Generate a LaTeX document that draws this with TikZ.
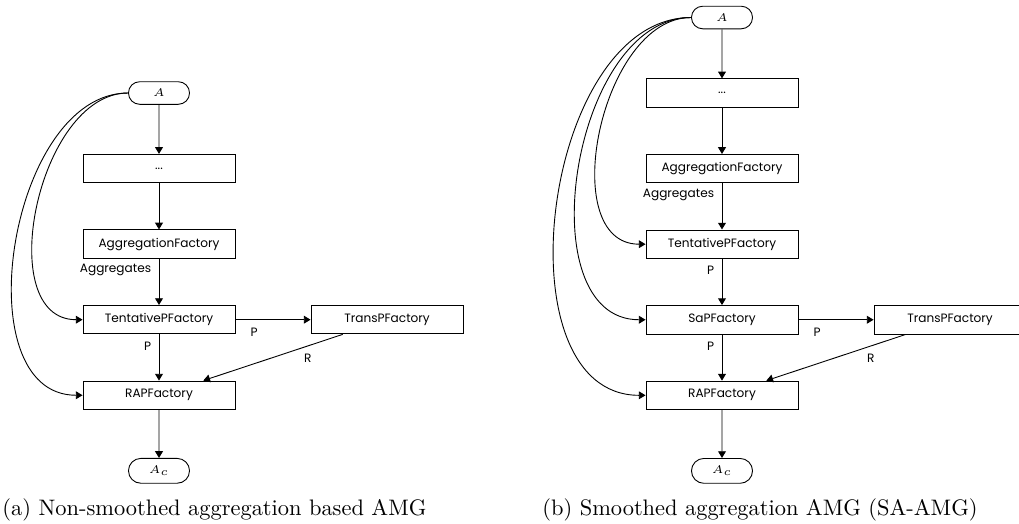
\documentclass[tikz,border=0pt]{standalone}
\usepackage{fontspec}
\usepackage{tikz}
\usetikzlibrary{shapes,shapes.misc,arrows.meta,positioning}
\newfontfamily\factoryfont{Poppins}
\tikzset{
	>={Triangle[width=3.5pt,length=3pt]},
	% boxes for the factories
	factory/.style = {rectangle,
	minimum width=67.8pt, minimum height=12.7pt,
	draw=black, text centered},
	% rounded boxes for the matrices
	term/.style = {rounded rectangle,
	minimum width=33.9pt, minimum height=8.5pt,
	draw=black, text centered},
	caption/.style = {anchor=base west, inner sep=0pt, font=\rmfamily\normalsize},
}

\begin{document}
\begin{tikzpicture}[x=0.446pt, y=-0.446pt, node distance=33.7pt, every node/.style={font=\factoryfont\fontsize{5.4}{6.5}\selectfont}]
	\useasboundingbox (0,0) rectangle (1019,523);
		% (a) non-smoothed aggregation
		\node (aA)[term] at (159,93) {$A$};
		\node (adots)[factory, below of=aA]{...};
		\node (aagg)[factory, below of=adots]{AggregationFactory};
		\node (atent)[factory, below of=aagg]{TentativePFactory};
		\node (atrans)[factory, right=33.5pt of atent]{TransPFactory};
		\node (arap)[factory, below of=atent]{RAPFactory};
		\node (aAc)[term, below of=arap]{$A_c$};
		\node (acap)[caption] at (2,515) {(a) Non-smoothed aggregation based AMG};
		% (b) smoothed aggregation
		\node (bA)[term] at (722,17.5) {$A$};
		\node (bdots)[factory, below of=bA]{...};
		\node (bagg)[factory, below of=bdots]{AggregationFactory};
		\node (btent)[factory, below of=bagg]{TentativePFactory};
		\node (bsap)[factory, below of=btent]{SaPFactory};
		\node (btrans)[factory, right=33.5pt of bsap]{TransPFactory};
		\node (brap)[factory, below of=bsap]{RAPFactory};
		\node (bAc)[term, below of=brap]{$A_c$};
		\node (bcap)[caption] at (542,515) {(b) Smoothed aggregation AMG (SA-AMG)};
		% draw arrows (a)
		\draw[->](aA) -- (adots);
		\draw[->](adots) -- (aagg);
		\draw[->](aagg) -- node[near start, left]{Aggregates} (atent);
		\draw[->](atent) -- node[near start, below]{P} (atrans);
		\draw[->](atent) -- node[near start, left]{P} (arap);
		\draw[->](atrans) -- node[near start, below]{R} (arap);
		\draw[->](arap) -- (aAc);
		\draw[->](aA.west) to[out=180, in=180] (atent.west);
		\draw[->](aA.west) to[out=180, in=180] (arap.west);
		% draw arrows (b)
		\draw[->](bA) -- (bdots);
		\draw[->](bdots) -- (bagg);
		\draw[->](bagg) -- node[near start, left]{Aggregates} (btent);
		\draw[->](btent) -- node[near start, left]{P} (bsap);
		\draw[->](bsap) -- node[near start, below]{P} (btrans);
		\draw[->](bsap) -- node[near start, left]{P} (brap);
		\draw[->](btrans) -- node[near start, below]{R} (brap);
		\draw[->](brap) -- (bAc);
		\draw[->](bA.west) to[out=180, in=180] (btent.west);
		\draw[->](bA.west) to[out=180, in=180] (bsap.west);
		\draw[->](bA.west) to[out=180, in=180] (brap.west);
\end{tikzpicture}
\end{document}
